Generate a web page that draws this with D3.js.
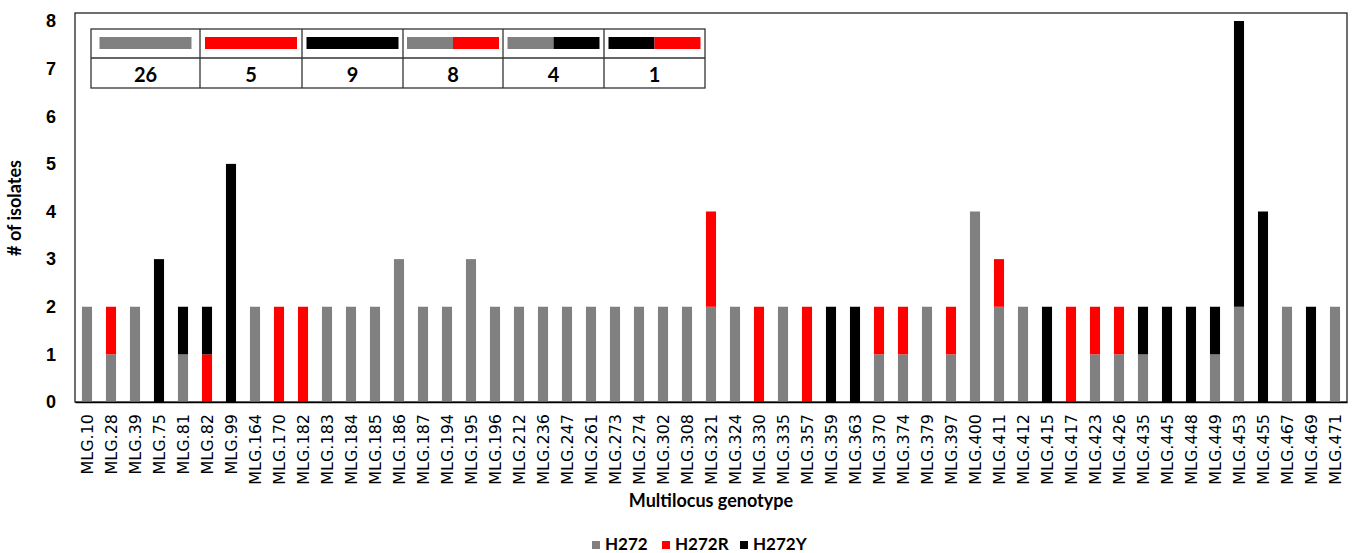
<!DOCTYPE html>
<html>
<head>
<meta charset="utf-8">
<script src="https://cdn.jsdelivr.net/npm/d3@7"></script>
<style>
	body { margin: 0; background: #fff; }
	svg { font-family: Lato, "Open Sans", sans-serif; }
</style>
</head>
<body>
<script>
//genotypes along the x axis
var genotypes = ["MLG.10","MLG.28","MLG.39","MLG.75","MLG.81","MLG.82","MLG.99","MLG.164","MLG.170","MLG.182",
	"MLG.183","MLG.184","MLG.185","MLG.186","MLG.187","MLG.194","MLG.195","MLG.196","MLG.212","MLG.236",
	"MLG.247","MLG.261","MLG.273","MLG.274","MLG.302","MLG.308","MLG.321","MLG.324","MLG.330","MLG.335",
	"MLG.357","MLG.359","MLG.363","MLG.370","MLG.374","MLG.379","MLG.397","MLG.400","MLG.411","MLG.412",
	"MLG.415","MLG.417","MLG.423","MLG.426","MLG.435","MLG.445","MLG.448","MLG.449","MLG.453","MLG.455",
	"MLG.467","MLG.469","MLG.471"];

//isolate counts per allele
var h272  = [2,1,2,0,1,0,0,2,0,0, 2,2,2,3,2,2,3,2,2,2, 2,2,2,2,2,2,2,2,0,2, 0,0,0,1,1,2,1,4,2,2, 0,0,1,1,1,0,0,1,2,0, 2,0,2];
var h272R = [0,1,0,0,0,1,0,0,2,2, 0,0,0,0,0,0,0,0,0,0, 0,0,0,0,0,0,2,0,2,0, 2,0,0,1,1,0,1,0,1,0, 0,2,1,1,0,0,0,0,0,0, 0,0,0];
var h272Y = [0,0,0,3,1,1,5,0,0,0, 0,0,0,0,0,0,0,0,0,0, 0,0,0,0,0,0,0,0,0,0, 0,2,2,0,0,0,0,0,0,0, 2,0,0,0,1,2,2,1,6,4, 0,2,0];

var seriesNames = ["H272","H272R","H272Y"];
var yTicks = [0,1,2,3,4,5,6,7,8];

//inset table: swatch combos and their counts
var comboParts = [["H272"],["H272R"],["H272Y"],["H272","H272R"],["H272","H272Y"],["H272Y","H272R"]];
var comboCounts = [26,5,9,8,4,1];

var colors = {"H272":"#808080","H272R":"#ff0000","H272Y":"#000000"};

var W = 1353, H = 553;
var margin = {top: 13, right: 6, bottom: 151, left: 75};

var rows = genotypes.map(function(g, i){
	return {"g":g, "H272":h272[i], "H272R":h272R[i], "H272Y":h272Y[i]};
});

var svg = d3.select("body").append("svg")
	.attr("width", W)
	.attr("height", H);

var xScale = d3.scaleBand()
	.domain(genotypes)
	.range([margin.left, W - margin.right])
	.paddingInner(0.58)
	.paddingOuter(0.29);
var yScale = d3.scaleLinear()
	.domain([0, 8])
	.range([H - margin.bottom, 21]);

//plot frame
svg.append("rect")
	.attr("x", margin.left)
	.attr("y", margin.top)
	.attr("width", W - margin.right - margin.left)
	.attr("height", H - margin.bottom - margin.top)
	.style("fill", "none")
	.style("stroke", "#222")
	.style("stroke-width", 1.3);

//stacked bars
var stacked = d3.stack().keys(seriesNames)(rows);
svg.append("g").selectAll("g")
	.data(stacked).enter()
		.append("g")
		.style("fill", function(d) {return colors[d.key];})
		.selectAll("rect")
		.data(function(d) {return d;}).enter()
			.append("rect")
			.attr("x", function(d) {return xScale(d.data.g);})
			.attr("width", xScale.bandwidth())
			.attr("y", function(d) {return yScale(d[1]);})
			.attr("height", function(d) {return yScale(d[0]) - yScale(d[1]);});

//axes
var gY = svg.append("g")
	.attr("transform", "translate(" + margin.left + ",0)")
	.call(d3.axisLeft(yScale).tickValues(yTicks).tickSize(0).tickPadding(19).tickFormat(d3.format("d")));
gY.select(".domain").remove();
gY.selectAll("text")
	.style("font-size", "18px")
	.style("font-weight", "bold")
	.style("fill", "#000");

var gX = svg.append("g")
	.attr("transform", "translate(0," + (H - margin.bottom) + ")")
	.call(d3.axisBottom(xScale).tickSize(0));
gX.select(".domain").style("stroke", "#000").style("stroke-width", 1.5);
gX.selectAll("text")
	.attr("transform", "rotate(-90)")
	.attr("x", -12)
	.attr("y", 0)
	.attr("dy", "0.36em")
	.style("text-anchor", "end")
	.style("font-family", "'DejaVu Sans', sans-serif")
	.style("font-size", "16px")
	.style("fill", "#000");

//axis titles
svg.append("text")
	.attr("transform", "rotate(-90)")
	.attr("x", -208)
	.attr("y", 21)
	.style("text-anchor", "middle")
	.style("font-size", "18px")
	.style("font-weight", "bold")
	.text("# of isolates");
svg.append("text")
	.attr("x", (margin.left + W - margin.right) / 2)
	.attr("y", 507)
	.style("text-anchor", "middle")
	.style("font-size", "18px")
	.style("font-weight", "bold")
	.text("Multilocus genotype");

//legend
var legendX = [592, 662, 740];
var legend = svg.append("g").selectAll("g")
	.data(seriesNames).enter()
		.append("g")
		.attr("transform", function(d, i) {return "translate(" + legendX[i] + ",541)";});
legend.append("rect")
	.attr("width", 8)
	.attr("height", 8)
	.style("fill", function(d) {return colors[d];});
legend.append("text")
	.attr("x", 13)
	.attr("y", 8.5)
	.style("font-size", "17px")
	.style("font-weight", "bold")
	.text(function(d) {return d;});

//inset table
var colEdges = [91, 200, 302, 403, 503, 604, 705];
var tTop = 29, tMid = 58, tBot = 88;
var table = svg.append("g");
table.append("rect")
	.attr("x", colEdges[0]).attr("y", tTop)
	.attr("width", colEdges[6] - colEdges[0]).attr("height", tBot - tTop)
	.style("fill", "#fff").style("stroke", "#333").style("stroke-width", 1.3);
table.append("line")
	.attr("x1", colEdges[0]).attr("x2", colEdges[6])
	.attr("y1", tMid).attr("y2", tMid)
	.style("stroke", "#333").style("stroke-width", 1.3);
table.selectAll(".col-line")
	.data(colEdges.slice(1, 6)).enter()
		.append("line")
		.attr("class", "col-line")
		.attr("x1", function(d) {return d;}).attr("x2", function(d) {return d;})
		.attr("y1", tTop).attr("y2", tBot)
		.style("stroke", "#333").style("stroke-width", 1.3);

var cells = table.selectAll(".cell")
	.data(comboParts).enter()
		.append("g")
		.attr("class", "cell");
cells.each(function(parts, i){
	var mid = (colEdges[i] + colEdges[i + 1]) / 2;
	var x0 = mid - 46, x1 = mid + 46;
	var segW = (x1 - x0) / parts.length;
	d3.select(this).selectAll("rect")
		.data(parts).enter()
			.append("rect")
			.attr("x", function(d, j) {return x0 + j * segW;})
			.attr("y", 37)
			.attr("width", segW)
			.attr("height", 12)
			.style("fill", function(d) {return colors[d];});
	d3.select(this).append("text")
		.attr("x", mid)
		.attr("y", 82)
		.style("text-anchor", "middle")
		.style("font-size", "20px")
		.style("font-weight", "bold")
		.text(comboCounts[i]);
});
</script>
</body>
</html>
